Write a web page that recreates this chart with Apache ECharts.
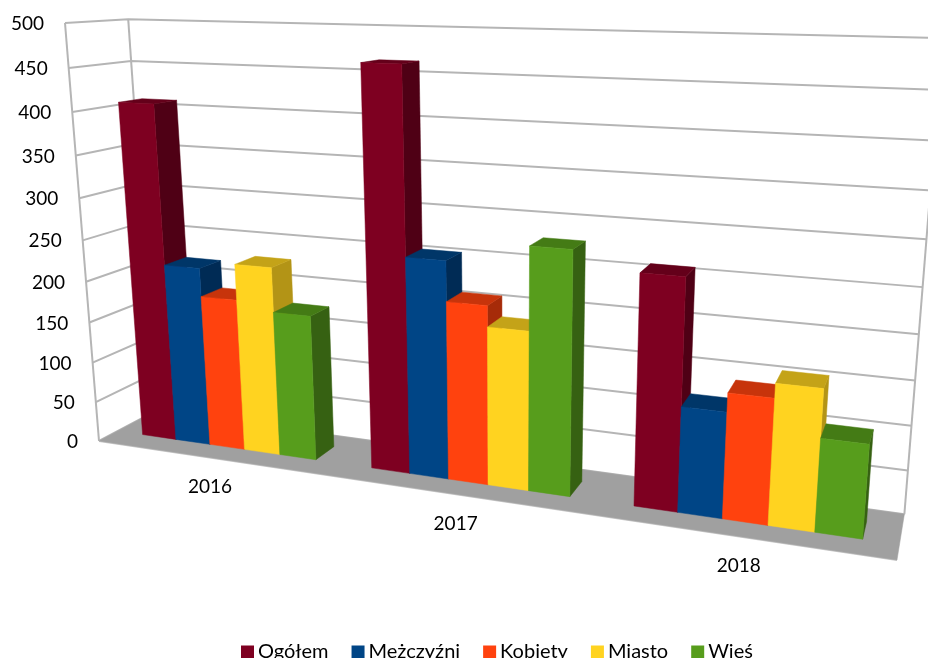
<!DOCTYPE html>
<html><head><meta charset="utf-8">
<style>html,body{margin:0;padding:0;background:#fff;overflow:hidden}#c{width:928px;height:658px}</style>
<script src="https://cdn.jsdelivr.net/npm/echarts@6/dist/echarts.min.js"></script>
</head><body><div id="c"></div>
<script>
const categories = ['2016','2017','2018'];
const yTicks = [0,50,100,150,200,250,300,350,400,450,500];
const ogolem    = [409,464,259];
const mezczyzni = [219,254,119];
const kobiety   = [185,208,140];
const miasto    = [228,184,156];
const wies      = [175,278,103];
const seriesNames = ['Ogółem','Mężczyźni','Kobiety','Miasto','Wieś'];
const seriesValues = [ogolem,mezczyzni,kobiety,miasto,wies];
const colors = ['#7e0021','#004586','#ff420e','#ffd320','#579d1c'];
const sideColors = ['#4f0015','#002b55','#a62b09','#b39416','#366112'];
const topColors = ['#64001a','#003668','#c7340b','#c4a318','#447b15'];

// perspective box: unit x/y/z mapped to screen
const O=[99,441], X1=[897,560], Y1=[65,23], Z1=[155.5,411], p=-0.192, q=-0.0769, r=0.0675;
const A=[0,1].map(i=>X1[i]*(1+p)-O[i]), B=[0,1].map(i=>Y1[i]*(1+q)-O[i]), C=[0,1].map(i=>Z1[i]*(1+r)-O[i]);
function P(x,y,z){const w=1+p*x+q*y+r*z;return [0,1].map(i=>(O[i]+x*A[i]+y*B[i]+z*C[i])/w);}

const G={l:100,t:100,w:700,h:400};
const U=px=>(px-G.l)/G.w, V=py=>(G.t+G.h-py)/G.h;
const Z0=0.32, Z1b=0.71, groupShare=0.768;
const font='19px Lato';
const poly=(pts,fill)=>({type:'polygon',shape:{points:pts},style:{fill,stroke:fill,lineWidth:0.5}});
const gridStroke={stroke:'#b5b5b5',lineWidth:2,fill:null};

const series=[];
// gridlines and walls
series.push({type:'custom',name:'_grid',silent:true,xAxisIndex:0,yAxisIndex:0,clip:false,
  data:yTicks.map(t=>[0,t]),
  renderItem(params,api){
    const v=V(api.coord([0,api.value(1)])[1]);
    const a=P(0,v,0),b=P(0,v,1),c=P(1,v,1);
    const children=[{type:'polyline',shape:{points:[a,b,c]},style:gridStroke},
      {type:'text',style:{x:a[0]-21,y:a[1]+1,text:String(api.value(1)),font,fill:'#000',align:'right',verticalAlign:'middle'}}];
    if(params.dataIndex===0){
      children.push({type:'polyline',shape:{points:[P(0,0,0),P(0,1,0)]},style:gridStroke});
      children.push({type:'polyline',shape:{points:[P(0,0,1),P(0,1,1)]},style:gridStroke});
      children.push({type:'polyline',shape:{points:[P(1,0,1),P(1,1,1)]},style:gridStroke});
      children.push({type:'polyline',shape:{points:[P(0,0,0),P(1,0,0)]},style:{stroke:'#c8c8c8',lineWidth:2,fill:null}});
      children.push(poly([P(0,0,0),P(1,0,0),P(1,0,1),P(0,0,1)],'#a0a0a0'));
    }
    return {type:'group',children};
  }});
// category labels
series.push({type:'custom',name:'_cat',silent:true,clip:false,
  data:categories.map((c,i)=>[i,0,c]),
  renderItem(params,api){
    const pt=api.coord([api.value(0),0]);
    const a=P(U(pt[0]),0,0);
    return {type:'text',style:{x:a[0],y:a[1]+29.5,text:categories[params.dataIndex],font,fill:'#000',align:'center',verticalAlign:'middle'}};
  }});
// bars
seriesValues.forEach((vals,s)=>{
  series.push({type:'custom',name:seriesNames[s],clip:false,silent:true,itemStyle:{color:colors[s]},
    data:vals.map((v,i)=>[i,v]),
    renderItem(params,api){
      const pt=api.coord([api.value(0),api.value(1)]);
      const band=api.size([1,0])[0];
      const bw=band*groupShare/seriesValues.length;
      const x0=U(pt[0]-band*groupShare/2+s*bw), x1=U(pt[0]-band*groupShare/2+(s+1)*bw);
      const y=V(pt[1]);
      return {type:'group',children:[
        poly([P(x1,0,Z0),P(x1,0,Z1b),P(x1,y,Z1b),P(x1,y,Z0)],sideColors[s]),
        poly([P(x0,y,Z0),P(x1,y,Z0),P(x1,y,Z1b),P(x0,y,Z1b)],topColors[s]),
        poly([P(x0,0,Z0),P(x1,0,Z0),P(x1,y,Z0),P(x0,y,Z0)],colors[s])
      ]};
    }});
});
const chart=echarts.init(document.getElementById('c'),null,{renderer:'canvas'});
chart.setOption({
  animation:false,
  backgroundColor:'#fff',
  color:colors,
  grid:{left:G.l,top:G.t,width:G.w,height:G.h},
  xAxis:{type:'category',data:categories,show:false},
  yAxis:{type:'value',min:0,max:500,interval:50,show:false},
  legend:{data:seriesNames,left:241,top:642,itemWidth:13,itemHeight:13,itemGap:23,icon:'rect',selectedMode:false,
    padding:0,textStyle:{fontFamily:'Lato',fontSize:20,color:'#000',padding:[2,0,0,-1]}},
  series
});
</script></body></html>
